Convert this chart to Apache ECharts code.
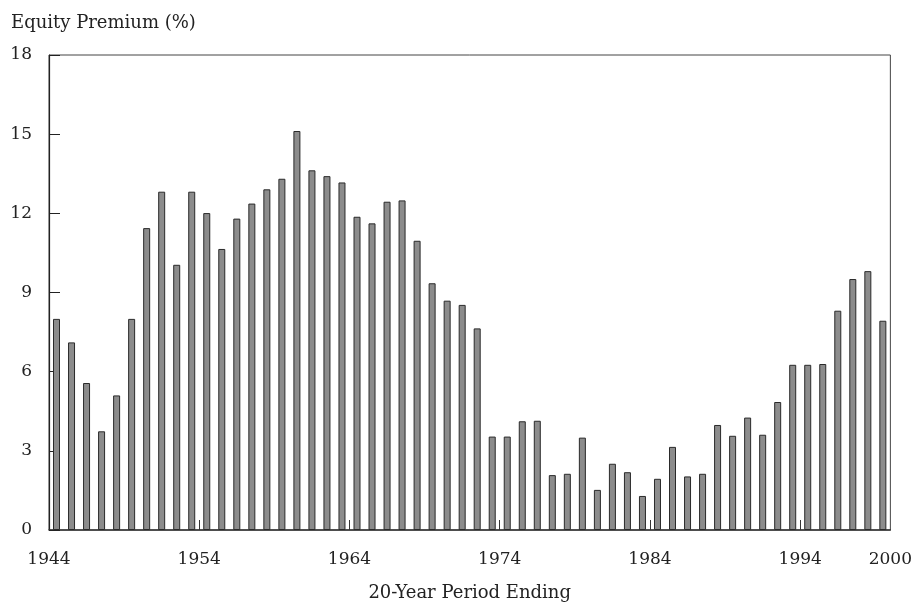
<!DOCTYPE html>
<html>
<head>
<meta charset="utf-8">
<script src="https://cdn.jsdelivr.net/npm/echarts@6/dist/echarts.min.js"></script>
<style>
html,body{margin:0;padding:0;background:#fff;}
#chart{width:915px;height:607px;}
</style>
</head>
<body>
<div id="chart"></div>
<script>
// 20-year period ending years
const years = [1945,1946,1947,1948,1949,1950,1951,1952,1953,1954,
  1955,1956,1957,1958,1959,1960,1961,1962,1963,1964,
  1965,1966,1967,1968,1969,1970,1971,1972,1973,1974,
  1975,1976,1977,1978,1979,1980,1981,1982,1983,1984,
  1985,1986,1987,1988,1989,1990,1991,1992,1993,1994,
  1995,1996,1997,1998,1999,2000];
// Equity premium (%)
const premium = [8.0,7.11,5.57,3.74,5.10,8.0,11.44,12.82,10.05,12.82,
  12.01,10.65,11.80,12.37,12.91,13.31,15.12,13.63,13.41,13.17,
  11.87,11.62,12.44,12.49,10.96,9.35,8.69,8.53,7.64,3.54,
  3.54,4.12,4.14,2.08,2.13,3.50,1.52,2.51,2.19,1.29,
  1.94,3.15,2.03,2.13,3.98,3.57,4.26,3.61,4.85,6.26,
  6.26,6.29,8.31,9.51,9.81,7.93];
// Axis tick labels
const xLabelYears = [1944,1954,1964,1974,1984,1994,2000];
const xTickYears = [1954,1964,1974,1984,1994];
const yMin = 0, yMax = 18, yStep = 3;
const xMin = 1944, xMax = 2000;

const FONT = 'DejaVu Serif';
const chart = echarts.init(document.getElementById('chart'), null, {renderer:'canvas'});
chart.setOption({
  animation:false,
  backgroundColor:'#ffffff',
  title:{
    text:'Equity Premium (%)',
    left:6, top:9,
    textStyle:{fontFamily:FONT, fontSize:18, fontWeight:'normal', color:'#222'}
  },
  grid:{left:49, right:21, top:55, bottom:77, show:true, borderColor:'#444', borderWidth:1, backgroundColor:'transparent'},
  xAxis:[
    {
      type:'category',
      data:years.map(String),
      boundaryGap:true,
      axisLine:{show:true, lineStyle:{color:'#333', width:1.5}},
      axisTick:{show:false},
      axisLabel:{show:false},
      splitLine:{show:false}
    },
    {
      type:'value',
      min:xMin, max:xMax,
      position:'bottom',
      name:'20-Year Period Ending',
      nameLocation:'middle',
      nameGap:54,
      nameTextStyle:{fontFamily:FONT, fontSize:18, color:'#222'},
      axisLine:{show:false},
      axisTick:{show:true, inside:true, length:10, customValues:xTickYears, lineStyle:{color:'#333', width:1}},
      axisLabel:{show:true, customValues:xLabelYears, margin:21, fontFamily:FONT, fontSize:17, color:'#222',
        formatter:function(v){return String(v);}},
      splitLine:{show:false}
    }
  ],
  yAxis:{
    type:'value',
    min:yMin, max:yMax, interval:yStep,
    axisLine:{show:true, lineStyle:{color:'#222', width:1.2}},
    axisTick:{show:true, inside:true, length:11, lineStyle:{color:'#222', width:1}},
    axisLabel:{margin:17, fontFamily:FONT, fontSize:17, color:'#222'},
    splitLine:{show:false}
  },
  series:[{
    type:'bar',
    xAxisIndex:0,
    data:premium,
    barWidth:7,
    itemStyle:{color:'#8c8c8c', borderColor:'#2a2a2a', borderWidth:1}
  }]
});
</script>
</body>
</html>
